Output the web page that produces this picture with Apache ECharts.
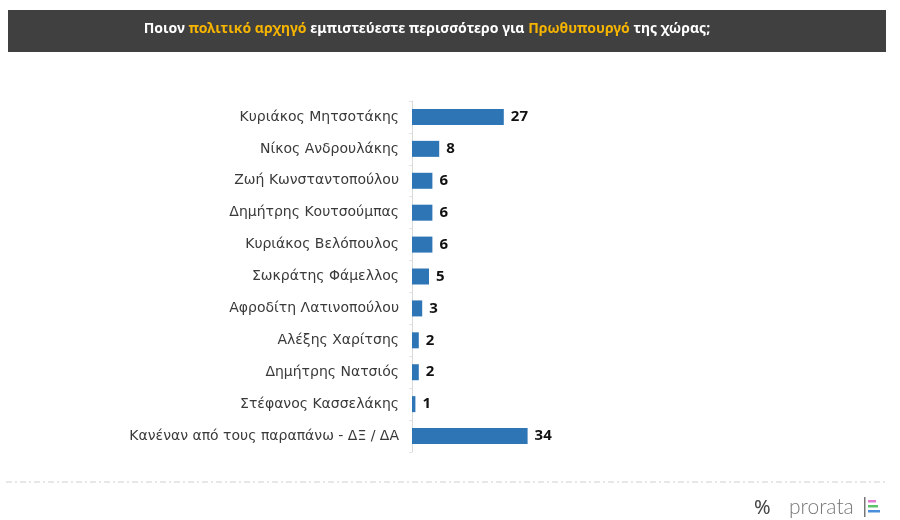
<!DOCTYPE html>
<html><head><meta charset="utf-8">
<script src="https://cdn.jsdelivr.net/npm/echarts@6/dist/echarts.min.js"></script>
<style>html,body{margin:0;padding:0;background:#fff}#c{width:900px;height:520px}</style>
</head><body><div id="c"></div>
<script>
var categories = ["Κυριάκος Μητσοτάκης","Νίκος Ανδρουλάκης","Ζωή Κωνσταντοπούλου","Δημήτρης Κουτσούμπας","Κυριάκος Βελόπουλος","Σωκράτης Φάμελλος","Αφροδίτη Λατινοπούλου","Αλέξης Χαρίτσης","Δημήτρης Νατσιός","Στέφανος Κασσελάκης","Κανέναν από τους παραπάνω - ΔΞ / ΔΑ"];
var values = [27,8,6,6,6,5,3,2,2,1,34];

var chart = echarts.init(document.getElementById('c'));
chart.setOption({
  backgroundColor:'#fff',
  animation:false,
  grid:{left:412,top:101,height:351,right:148},
  xAxis:{type:'value',min:0,max:100,show:false},
  yAxis:{type:'category',inverse:true,data:categories,
    axisLine:{lineStyle:{color:'#d9d9d9',width:1}},
    axisTick:{show:true,length:3,lineStyle:{color:'#e3e3e3'}},
    axisLabel:{color:'#3a3a3a',fontSize:14,fontFamily:'DejaVu Sans',margin:13}
  },
  series:[{type:'bar',data:values,barWidth:16,
    itemStyle:{color:'#2e75b6'},
    label:{show:true,position:'right',distance:7,color:'#111',fontWeight:'bold',fontSize:15,fontFamily:'Noto Sans'}
  }],
  graphic:[
    {type:'rect',shape:{x:8,y:10,width:878,height:42},style:{fill:'#404040'},z:0},
    {type:'text',x:427,y:29,style:{
      text:'{w|Ποιον }{y|πολιτικό αρχηγό}{w| εμπιστεύεστε περισσότερο για }{y|Πρωθυπουργό}{w| της χώρας;}',
      align:'center',verticalAlign:'middle',
      rich:{w:{fill:'#ffffff',fontSize:14,fontFamily:'Noto Sans',fontWeight:'bold'},y:{fill:'#f5b400',fontSize:14,fontFamily:'Noto Sans',fontWeight:'bold'}}
    },z:1},
    {type:'line',shape:{x1:6,y1:482,x2:888,y2:482},style:{stroke:'#cfcfcf',lineWidth:1.2,lineDash:[6,3,2,3]}},
    {type:'text',x:754,y:508,style:{text:'%',fill:'#444',fontSize:20,fontFamily:'Noto Sans',verticalAlign:'middle'}},
    {type:'text',x:789,y:507,style:{text:'prorata',fill:'#777',fontSize:21,fontFamily:'Lato',fontWeight:300,verticalAlign:'middle'}},
    {type:'rect',shape:{x:864,y:497,width:1.5,height:20},style:{fill:'#777'}},
    {type:'rect',shape:{x:868,y:500,width:8,height:2.5},style:{fill:'#e27bd0'}},
    {type:'rect',shape:{x:868,y:505,width:10,height:2.5},style:{fill:'#5cc36b'}},
    {type:'rect',shape:{x:868,y:510,width:12,height:2.5},style:{fill:'#4a8fd9'}}
  ]
});
</script></body></html>
